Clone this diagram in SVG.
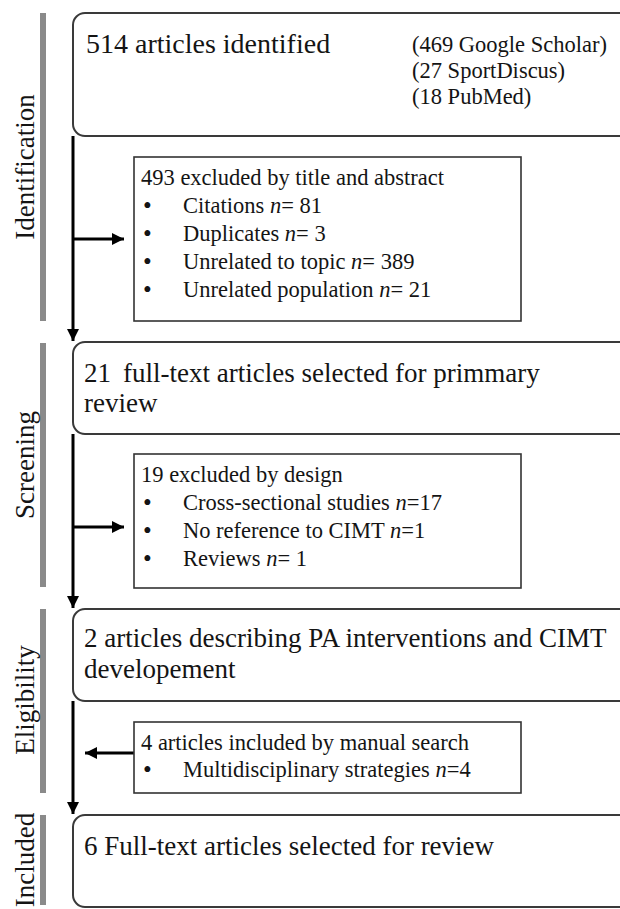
<svg xmlns="http://www.w3.org/2000/svg" width="620" height="909" viewBox="0 0 620 909" font-family="'Liberation Serif', 'Times New Roman', Times, serif">
<defs>
<style>
text{font-family:'Liberation Serif','Times New Roman',Times,serif;fill:#141414}
.big{font-size:28px}
.mid{font-size:27px}
.sm{font-size:22.5px}
.lab{font-size:27px}
.bul{font-size:25px}
.bar{fill:#8a8a8a}
.main{fill:#fff;stroke:#3a3a3a;stroke-width:2}
.excl{fill:#fff;stroke:#333;stroke-width:1.6}
.conn{stroke:#000;stroke-width:3;fill:none}
.i{font-style:italic}
</style>
<marker id="ah" viewBox="0 0 12 12" refX="12" refY="6" markerWidth="12" markerHeight="12" markerUnits="userSpaceOnUse" orient="auto">
<path d="M0,0 L12,6 L0,12 Z" fill="#000"/>
</marker>
</defs>
<rect width="620" height="909" fill="#fff"/>

<g id="stage-labels">
<rect class="bar" x="40" y="13" width="6" height="308"/>
<text class="lab" transform="translate(34,167) rotate(-90)" text-anchor="middle">Identification</text>
<rect class="bar" x="40" y="343" width="6" height="244"/>
<text class="lab" transform="translate(34,465) rotate(-90)" text-anchor="middle">Screening</text>
<rect class="bar" x="40" y="609" width="6" height="184"/>
<text class="lab" transform="translate(34,700) rotate(-90)" text-anchor="middle">Eligibility</text>
<rect class="bar" x="40" y="815" width="6" height="90"/>
<text class="lab" transform="translate(34,860) rotate(-90)" text-anchor="middle">Included</text>
</g>

<g id="connectors">
<line class="conn" x1="73" y1="136" x2="73" y2="341" marker-end="url(#ah)"/>
<line class="conn" x1="73" y1="239" x2="124" y2="239" marker-end="url(#ah)"/>
<line class="conn" x1="73" y1="434" x2="73" y2="608" marker-end="url(#ah)"/>
<line class="conn" x1="73" y1="527" x2="124" y2="527" marker-end="url(#ah)"/>
<line class="conn" x1="73" y1="701" x2="73" y2="814" marker-end="url(#ah)"/>
<line class="conn" x1="134" y1="753" x2="85" y2="753" marker-end="url(#ah)"/>
</g>

<g id="n-identified">
<rect class="main" x="73" y="13" width="570" height="123" rx="12"/>
<text class="big" x="86" y="53">514 articles identified</text>
<text class="sm" x="412" y="52">(469 Google Scholar)</text>
<text class="sm" x="412" y="78">(27 SportDiscus)</text>
<text class="sm" x="412" y="104">(18 PubMed)</text>
</g>

<g id="n-excluded-title">
<rect class="excl" x="134" y="157" width="387" height="164"/>
<text class="sm" x="141" y="185">493 excluded by title and abstract</text>
<text class="sm" y="213"><tspan class="bul" x="143" dy="1">•</tspan><tspan x="183" y="213">Citations <tspan class="i">n</tspan>= 81</tspan></text>
<text class="sm" y="241"><tspan class="bul" x="143" dy="1">•</tspan><tspan x="183" y="241">Duplicates <tspan class="i">n</tspan>= 3</tspan></text>
<text class="sm" y="269"><tspan class="bul" x="143" dy="1">•</tspan><tspan x="183" y="269">Unrelated to topic <tspan class="i">n</tspan>= 389</tspan></text>
<text class="sm" y="297"><tspan class="bul" x="143" dy="1">•</tspan><tspan x="183" y="297">Unrelated population <tspan class="i">n</tspan>= 21</tspan></text>
</g>

<g id="n-fulltext">
<rect class="main" x="73" y="342" width="570" height="92" rx="12"/>
<text class="mid" x="84" y="382">21<tspan dx="12">full-text articles selected for primmary</tspan></text>
<text class="mid" x="84" y="412">review</text>
</g>

<g id="n-excluded-design">
<rect class="excl" x="134" y="454" width="387" height="134"/>
<text class="sm" x="141" y="482">19 excluded by design</text>
<text class="sm" y="510"><tspan class="bul" x="143" dy="1">•</tspan><tspan x="183" y="510">Cross-sectional studies <tspan class="i">n</tspan>=17</tspan></text>
<text class="sm" y="538"><tspan class="bul" x="143" dy="1">•</tspan><tspan x="183" y="538">No reference to CIMT <tspan class="i">n</tspan>=1</tspan></text>
<text class="sm" y="566"><tspan class="bul" x="143" dy="1">•</tspan><tspan x="183" y="566">Reviews <tspan class="i">n</tspan>= 1</tspan></text>
</g>

<g id="n-eligible">
<rect class="main" x="73" y="609" width="570" height="92" rx="12"/>
<text class="mid" x="84" y="647">2 articles describing PA interventions and CIMT</text>
<text class="mid" x="84" y="678">developement</text>
</g>

<g id="n-manual">
<rect class="excl" x="134" y="722" width="387" height="71"/>
<text class="sm" x="141" y="750">4 articles included by manual search</text>
<text class="sm" y="777"><tspan class="bul" x="143" dy="1">•</tspan><tspan x="183" y="777">Multidisciplinary strategies <tspan class="i">n</tspan>=4</tspan></text>
</g>

<g id="n-included">
<rect class="main" x="73" y="815" width="570" height="92" rx="12"/>
<text class="mid" x="84" y="855">6 Full-text articles selected for review</text>
</g>
</svg>
